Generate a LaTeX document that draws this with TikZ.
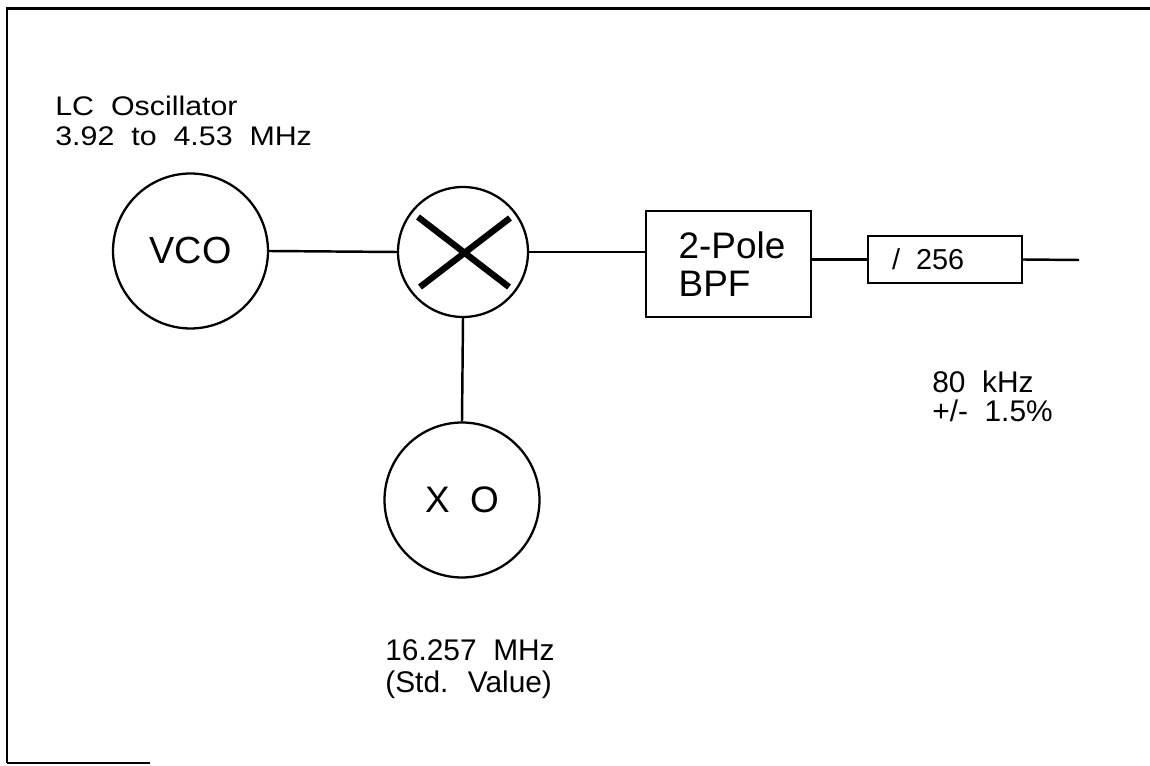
\documentclass[tikz,border=0pt]{standalone}
\usepackage{fontspec}
\setmainfont{Liberation Sans}[WordSpace=2]
\newfontfamily\lcfont{Liberation Sans}[WordSpace=2,FakeStretch=1.13]
\usetikzlibrary{calc}
\begin{document}
\begin{tikzpicture}[x=0.02cm,y=-0.02cm,
  wire/.style={line width=1.4pt},
  frameline/.style={line width=1.7pt},
  circblk/.style={draw,circle,line width=1.3pt,inner sep=0pt},
  boxblk/.style={draw,rectangle,line width=1.4pt,inner sep=0pt},
  crossline/.style={line width=3.6pt},
  lbl/.style={inner sep=0pt,anchor=base west,align=left}]
\useasboundingbox (0,0) rectangle (1150,766);
% frame
\draw[frameline] (7,763) -- (7,9) -- (1150,9);
\draw[frameline] (7,763) -- (150,763);
% nodes
\node[circblk,minimum size=3.1cm,font=\fontsize{21.5}{24}\selectfont] (vco) at (190.5,251) {VCO};
\node[circblk,minimum size=2.6cm] (mix) at (463,252) {};
\node[circblk,minimum size=3.1cm,font=\fontsize{21}{24}\selectfont] (xo) at (462,500) {X O};
\node[boxblk,minimum width=3.3cm,minimum height=2.12cm,align=left,font=\fontsize{21}{22}\selectfont] (bpf) at (728.5,264) {\hspace*{0.14cm}2-Pole\\\hspace*{0.14cm}BPF};
\node[boxblk,minimum width=3.08cm,minimum height=0.94cm,font=\fontsize{16.4}{18}\selectfont] (div) at (945,259.5) {\makebox[2.12cm][l]{/ 256}};
\coordinate (out) at (1079,260);
% mixer cross
\draw[crossline] ($(mix)+(-45,-35)$) -- ($(mix)+(46,35)$);
\draw[crossline] ($(mix)+(47,-34)$) -- ($(mix)+(-43,35)$);
% connectors
\draw[wire] (vco.east) -- (mix.west);
\draw[wire] (mix.east) -- (mix.east -| bpf.west);
\draw[wire] (bpf.east |- div.west) -- (div.west);
\draw[wire] (div.east) -- (out);
\draw[wire] (mix.south) -- (xo.north);
% labels
\node[lbl,font=\lcfont\fontsize{15.3}{17.6}\selectfont] (lc) at (55,146) {LC Oscillator\\3.92 to 4.53 MHz};
\node[lbl,font=\fontsize{17}{17}\selectfont] (fout) at (932,422) {80 kHz\\+/- 1.5\%};
\node[lbl,font=\fontsize{17}{18.7}\selectfont] (fxo) at (385,693) {16.257 MHz\\(Std. Value)};
\end{tikzpicture}
\end{document}
